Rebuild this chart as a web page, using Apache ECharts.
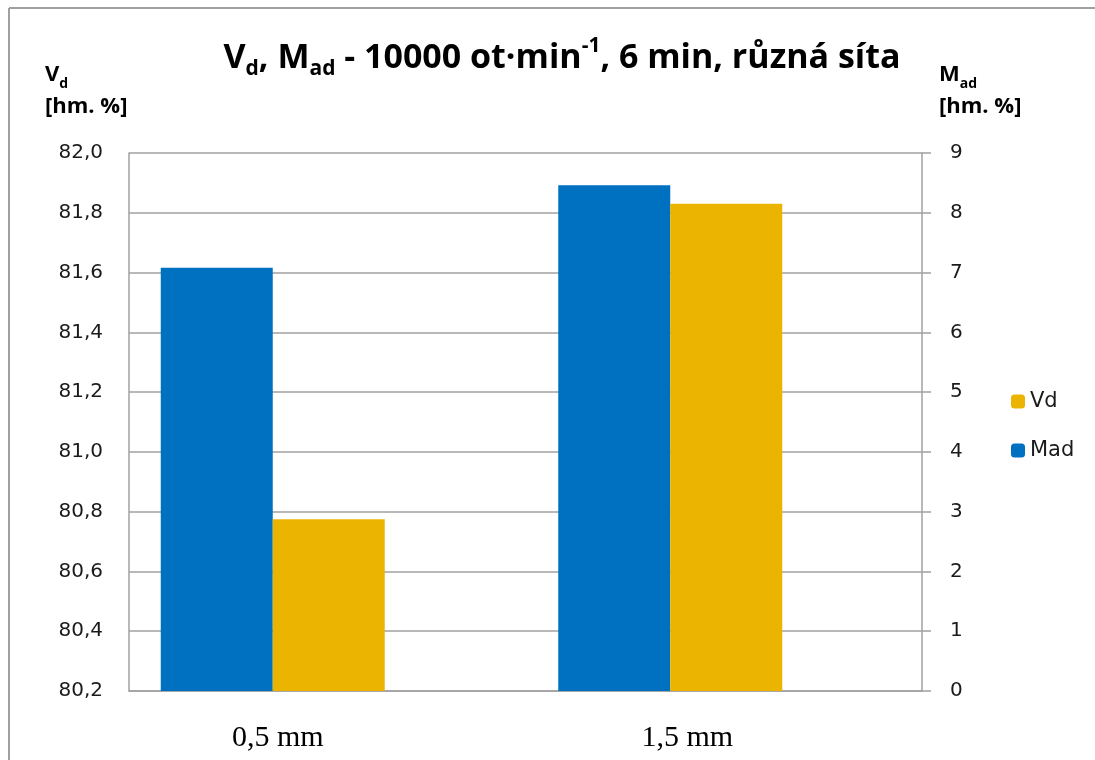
<!DOCTYPE html>
<html>
<head>
<meta charset="utf-8">
<script src="https://cdn.jsdelivr.net/npm/echarts@6/dist/echarts.min.js"></script>
<style>
  html, body { margin: 0; padding: 0; background: #fff; }
  #main { width: 1095px; height: 760px; }
</style>
</head>
<body>
<div id="main"></div>
<script>
// data
var categories = ['0,5 mm', '1,5 mm'];
var vdValues = [80.775, 81.83];   // left axis, hm. %
var madValues = [7.08, 8.46];     // right axis, hm. %
var vdAxis = { min: 80.2, max: 82.0, step: 0.2 };
var madAxis = { min: 0, max: 9, step: 1 };

var gray = '#a0a0a0';
var txt = '#1a1a1a';
var sans = 'DejaVu Sans';

var myChart = echarts.init(document.getElementById('main'));

var unitRich = {
  b: { fontFamily: 'Open Sans', fontWeight: 'bold', fontSize: 22, color: '#000', lineHeight: 32 },
  sub: { fontFamily: 'Open Sans', fontWeight: 'bold', fontSize: 14, color: '#000', lineHeight: 14, verticalAlign: 'bottom' }
};

var option = {
  backgroundColor: '#fff',
  title: {
    left: 557,
    textAlign: 'center',
    top: 31,
    text: '{b|V}{sub|d}{b|, M}{sub|ad}{b| - 10000 ot·min}{sup|-1}{b|, 6 min, různá síta}',
    textStyle: {
      rich: {
        b: { fontFamily: 'Open Sans', fontWeight: 'bold', fontSize: 34, color: '#000', lineHeight: 44 },
        sub: { fontFamily: 'Open Sans', fontWeight: 'bold', fontSize: 21, color: '#000', lineHeight: 21, verticalAlign: 'bottom' },
        sup: { fontFamily: 'Open Sans', fontWeight: 'bold', fontSize: 21, color: '#000', lineHeight: 21, verticalAlign: 'top' }
      }
    }
  },
  legend: {
    orient: 'vertical',
    left: 1006,
    top: 386,
    itemWidth: 14,
    itemHeight: 14,
    itemGap: 28,
    data: ['Vd', 'Mad'],
    textStyle: { fontFamily: sans, fontSize: 21, color: txt }
  },
  graphic: [
    { type: 'line', shape: { x1: 9, y1: 8, x2: 1095, y2: 8 }, style: { stroke: gray, lineWidth: 2 } },
    { type: 'line', shape: { x1: 9, y1: 8, x2: 9, y2: 760 }, style: { stroke: gray, lineWidth: 2 } },
    {
      type: 'text', left: 45, top: 64,
      style: { text: '{b|V}{sub|d}\n{b|[hm. %]}', align: 'center', rich: unitRich }
    },
    {
      type: 'text', left: 939, top: 64,
      style: { text: '{b|M}{sub|ad}\n{b|[hm. %]}', align: 'center', rich: unitRich }
    }
  ],
  grid: [
    // frame, axes and gridlines
    { left: 129, right: 173, top: 153, bottom: 69 },
    // bars (clusters sit left of the category centres as in the original)
    { left: 74, right: 226, top: 153, bottom: 69 }
  ],
  xAxis: [
    {
      type: 'category', gridIndex: 0, data: categories,
      axisLine: { lineStyle: { color: gray, width: 1.5 } },
      axisTick: { show: false },
      axisLabel: { show: false }
    },
    {
      type: 'category', gridIndex: 1, data: categories,
      axisLine: { show: false },
      axisTick: { show: false },
      axisLabel: {
        margin: 32,
        fontFamily: 'Liberation Serif', fontSize: 30, color: '#000',
        formatter: function (v, i) { return '{l' + i + '|' + v + '}'; },
        rich: {
          l0: { fontFamily: 'Liberation Serif', fontSize: 30, color: '#000', padding: [0, 0, 0, 10] },
          l1: { fontFamily: 'Liberation Serif', fontSize: 30, color: '#000', padding: [0, 0, 0, 34] }
        }
      }
    }
  ],
  yAxis: [
    {
      type: 'value', gridIndex: 0, position: 'left',
      min: vdAxis.min, max: vdAxis.max, interval: vdAxis.step,
      axisLine: { show: true, lineStyle: { color: gray, width: 1.5 } },
      axisTick: { show: false },
      splitLine: { lineStyle: { color: gray, width: 1.5 } },
      axisLabel: {
        margin: 26, fontFamily: sans, fontSize: 20, color: txt,
        formatter: function (v) { return v.toFixed(1).replace('.', ','); }
      }
    },
    {
      type: 'value', gridIndex: 0, position: 'right',
      min: madAxis.min, max: madAxis.max, interval: madAxis.step,
      axisLine: { show: true, lineStyle: { color: gray, width: 1.5 } },
      axisTick: { show: true, length: 9, lineStyle: { color: gray, width: 1.5 } },
      splitLine: { show: false },
      axisLabel: { margin: 28, fontFamily: sans, fontSize: 20, color: txt }
    },
    { type: 'value', gridIndex: 1, min: vdAxis.min, max: vdAxis.max, show: false },
    { type: 'value', gridIndex: 1, min: madAxis.min, max: madAxis.max, show: false }
  ],
  series: [
    {
      name: 'Mad', type: 'bar', xAxisIndex: 1, yAxisIndex: 3,
      barWidth: 112, barGap: '0%',
      itemStyle: { color: '#0070c0' },
      data: madValues
    },
    {
      name: 'Vd', type: 'bar', xAxisIndex: 1, yAxisIndex: 2,
      barWidth: 112, barGap: '0%',
      itemStyle: { color: '#ebb400' },
      data: vdValues
    }
  ]
};

myChart.setOption(option);
</script>
</body>
</html>
